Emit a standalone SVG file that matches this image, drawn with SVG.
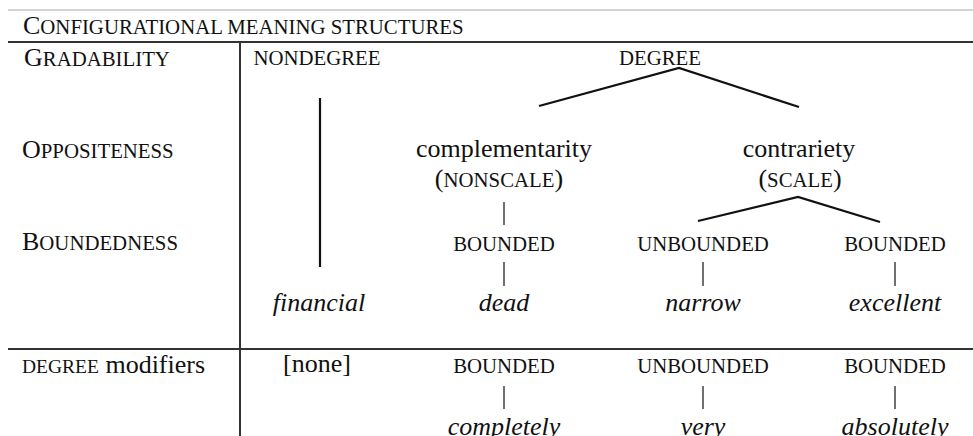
<svg xmlns="http://www.w3.org/2000/svg" width="973" height="436" viewBox="0 0 973 436">
<style>
text{font-family:"Liberation Serif","Times New Roman",serif;fill:#111}
.sc{font-size:20.8px}
.big{font-size:26px}
.lc{font-size:26px}
.it{font-size:26px;font-style:italic}
.m{text-anchor:middle}
.rule{stroke:#333;stroke-width:2;fill:none}
.thin{stroke:#aaa;stroke-width:1.2;fill:none}
.br{stroke:#111;stroke-width:2.2;fill:none}
.tick{stroke:#222;stroke-width:1.3;fill:none}
</style>
<rect width="973" height="436" fill="#fff"/>
<g id="table-rules">
<line class="thin" x1="8" y1="10" x2="973" y2="10"/>
<line class="rule" x1="8" y1="42" x2="973" y2="42"/>
<line class="rule" x1="8" y1="349" x2="973" y2="349"/>
<line class="rule" x1="240" y1="42" x2="240" y2="436"/>
</g>
<g id="headers">
<text x="23" y="34"><tspan class="big">C</tspan><tspan class="sc">ONFIGURATIONAL MEANING STRUCTURES</tspan></text>
<text x="24" y="66"><tspan class="big">G</tspan><tspan class="sc">RADABILITY</tspan></text>
<text x="22" y="158"><tspan class="big">O</tspan><tspan class="sc">PPOSITENESS</tspan></text>
<text x="22" y="250"><tspan class="big">B</tspan><tspan class="sc">OUNDEDNESS</tspan></text>
<text x="22" y="373"><tspan class="sc" style="font-size:19.5px">DEGREE</tspan><tspan class="lc"> modifiers</tspan></text>
</g>
<g id="n-nondegree"><text class="sc m" x="317" y="65">NONDEGREE</text></g>
<g id="n-degree"><text class="sc m" x="660" y="65">DEGREE</text></g>
<g id="n-complementarity"><text class="lc m" x="504" y="157">complementarity</text><text class="m" x="499" y="187"><tspan style="font-size:26px">(</tspan><tspan class="sc">NONSCALE</tspan><tspan style="font-size:26px">)</tspan></text></g>
<g id="n-contrariety"><text class="lc m" x="799" y="157">contrariety</text><text class="m" x="800" y="187"><tspan style="font-size:26px">(</tspan><tspan class="sc">SCALE</tspan><tspan style="font-size:26px">)</tspan></text></g>
<g id="n-bounded1"><text class="sc m" x="504" y="251">BOUNDED</text></g>
<g id="n-unbounded1"><text class="sc m" x="703" y="251">UNBOUNDED</text></g>
<g id="n-bounded2"><text class="sc m" x="895" y="251">BOUNDED</text></g>
<g id="n-financial"><text class="it m" x="319" y="311">financial</text></g>
<g id="n-dead"><text class="it m" x="504" y="311">dead</text></g>
<g id="n-narrow"><text class="it m" x="703" y="311">narrow</text></g>
<g id="n-excellent"><text class="it m" x="895" y="311">excellent</text></g>
<g id="n-none"><text class="lc m" x="317" y="372">[none]</text></g>
<g id="n-bounded3"><text class="sc m" x="504" y="373">BOUNDED</text></g>
<g id="n-unbounded2"><text class="sc m" x="703" y="373">UNBOUNDED</text></g>
<g id="n-bounded4"><text class="sc m" x="895" y="373">BOUNDED</text></g>
<g id="n-completely"><text class="it m" x="504" y="435">completely</text></g>
<g id="n-very"><text class="it m" x="703" y="435">very</text></g>
<g id="n-absolutely"><text class="it m" x="895" y="435">absolutely</text></g>
<g id="connectors">
<line class="br" x1="320" y1="98" x2="320" y2="267"/>
<polyline class="br" points="539,106 679,68 799,107"/>
<polyline class="br" points="698,221 798,197 880,222"/>
<line class="tick" x1="504" y1="202" x2="504" y2="225"/>
<line class="tick" x1="504" y1="262" x2="504" y2="286"/>
<line class="tick" x1="703" y1="262" x2="703" y2="286"/>
<line class="tick" x1="895" y1="262" x2="895" y2="286"/>
<line class="tick" x1="504" y1="386" x2="504" y2="409"/>
<line class="tick" x1="703" y1="386" x2="703" y2="409"/>
<line class="tick" x1="895" y1="386" x2="895" y2="409"/>
</g>
</svg>
